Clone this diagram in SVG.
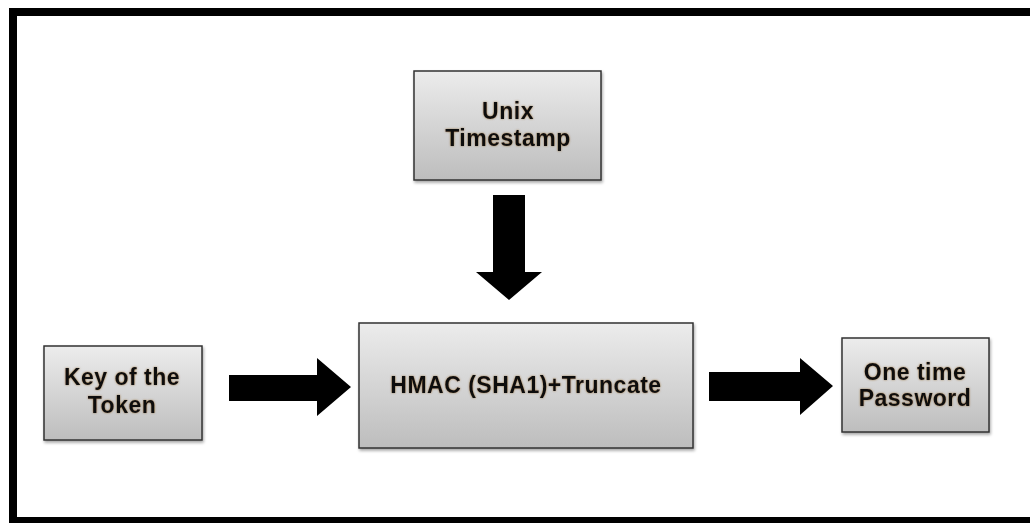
<svg xmlns="http://www.w3.org/2000/svg" width="1030" height="523" viewBox="0 0 1030 523">
<defs>
<linearGradient id="g" x1="0" y1="0" x2="0" y2="1">
<stop offset="0" stop-color="#ececec"/>
<stop offset="1" stop-color="#bdbdbd"/>
</linearGradient>
<filter id="sh" x="-10%" y="-10%" width="125%" height="130%">
<feDropShadow dx="1" dy="2" stdDeviation="1.5" flood-color="#000" flood-opacity="0.35"/>
</filter>
<filter id="glow" x="-5%" y="-20%" width="110%" height="140%">
<feDropShadow dx="0" dy="0" stdDeviation="0.8" flood-color="#7a4a00" flood-opacity="0.6"/>
</filter>
</defs>
<style>
.box{fill:url(#g);stroke:#333;stroke-width:1.5;filter:url(#sh)}
.t{font-family:"Liberation Sans",Arial,sans-serif;font-weight:bold;font-size:23px;letter-spacing:0.5px;fill:#111;text-anchor:middle;filter:url(#glow)}
.arr{fill:#000}
</style>
<rect x="0" y="0" width="1030" height="523" fill="#fff"/>
<rect x="13" y="12" width="1030" height="509" fill="none" stroke="#000" stroke-width="8"/>
<g id="unix">
<rect class="box" x="414" y="71" width="187" height="109"/>
<text class="t" x="508" y="119">Unix</text>
<text class="t" x="508" y="146">Timestamp</text>
</g>
<g id="key">
<rect class="box" x="44" y="346" width="158" height="94"/>
<text class="t" x="122" y="385">Key of the</text>
<text class="t" x="122" y="413">Token</text>
</g>
<g id="hmac">
<rect class="box" x="359" y="323" width="334" height="125"/>
<text class="t" x="526" y="393">HMAC (SHA1)+Truncate</text>
</g>
<g id="otp">
<rect class="box" x="842" y="338" width="147" height="94"/>
<text class="t" x="915" y="380">One time</text>
<text class="t" x="915" y="406">Password</text>
</g>
<g id="connectors">
<polygon class="arr" points="493,195 525,195 525,272 542,272 509,300 476,272 493,272"/>
<polygon class="arr" points="229,375 317,375 317,358 351,387 317,416 317,401 229,401"/>
<polygon class="arr" points="709,372 800,372 800,358 833,386 800,415 800,401 709,401"/>
</g>
</svg>
